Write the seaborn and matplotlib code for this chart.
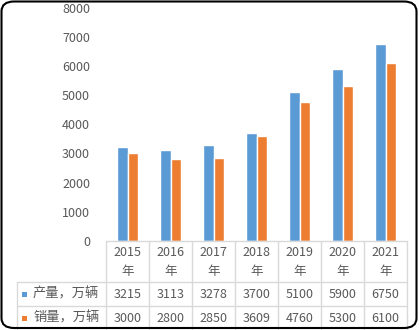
import matplotlib
matplotlib.use("Agg")
import matplotlib.pyplot as plt
from matplotlib.patches import FancyBboxPatch, Rectangle
import seaborn as sns
import pandas as pd

# Data
years = ["2015", "2016", "2017", "2018", "2019", "2020", "2021"]
year_suffix = "年"
series_names = ["产量，万辆", "销量，万辆"]
production = [3215, 3113, 3278, 3700, 5100, 5900, 6750]
sales = [3000, 2800, 2850, 3609, 4760, 5300, 6100]
y_ticks = [0, 1000, 2000, 3000, 4000, 5000, 6000, 7000, 8000]

colors = ["#5B9BD5", "#ED7D31"]
text_color = "#595959"
grid_color = "#D9D9D9"

sns.set_theme(style="white")
plt.rcParams["font.family"] = ["Noto Sans CJK SC", "DejaVu Sans"]

df = pd.DataFrame({
    "year": years * 2,
    "series": [series_names[0]] * len(years) + [series_names[1]] * len(years),
    "value": production + sales,
})

W, H = 419, 330
fig = plt.figure(figsize=(W / 100, H / 100), dpi=100)

def fx(px):
    return px / W

def fy(py):
    return 1 - py / H

# Chart area
ax_left, ax_right, ax_top, ax_bottom = 106, 407, 7.5, 241
ax = fig.add_axes([fx(ax_left), fy(ax_bottom), fx(ax_right - ax_left), (ax_bottom - ax_top) / H])
sns.barplot(data=df, x="year", y="value", hue="series", order=years,
            hue_order=series_names, palette=colors, width=0.466, gap=0,
            saturation=1, legend=False, ax=ax, errorbar=None)
ax.set_xlim(-0.5, len(years) - 0.5)
ax.set_ylim(0, 8000)
ax.set_yticks(y_ticks)
ax.set_yticklabels([str(t) for t in y_ticks])
ax.tick_params(axis="y", length=0, pad=11.5, labelsize=9, labelcolor=text_color)
ax.set_xticks([])
ax.set_xlabel("")
ax.set_ylabel("")
for s in ax.spines.values():
    s.set_visible(False)
ax.patch.set_alpha(0)

# Data table below the chart
tb_left, tb_top, tb_bottom = 17, 241, 330
col_w = (ax_right - ax_left) / len(years)
x_min = -0.5 - (ax_left - tb_left) / col_w
tax = fig.add_axes([fx(tb_left), 0, fx(ax_right - tb_left), (tb_bottom - tb_top) / H])
tax.set_xlim(x_min, len(years) - 0.5)
tax.set_ylim(tb_bottom - tb_top, 0)
tax.axis("off")

row1, row2 = 282 - tb_top, 306 - tb_top
lw = 1.0
tax.plot([-0.5, len(years) - 0.5], [0, 0], color=grid_color, lw=lw, clip_on=False)
for yy in (row1, row2):
    tax.plot([x_min, len(years) - 0.5], [yy, yy], color=grid_color, lw=lw, clip_on=False)
for i in range(len(years) + 1):
    tax.plot([i - 0.5, i - 0.5], [0, tb_bottom - tb_top], color=grid_color, lw=lw, clip_on=False)
tax.plot([x_min, x_min], [row1, tb_bottom - tb_top], color=grid_color, lw=lw, clip_on=False)

for i, yr in enumerate(years):
    tax.text(i, 12, yr, ha="center", va="center", fontsize=9, color=text_color)
    tax.text(i, 31, year_suffix, ha="center", va="center", fontsize=9, color=text_color)
    tax.text(i, 294 - tb_top, str(production[i]), ha="center", va="center", fontsize=9, color=text_color)
    tax.text(i, 318 - tb_top, str(sales[i]), ha="center", va="center", fontsize=9, color=text_color)

# Legend keys inside the table
for name, c, ycen in zip(series_names, colors, (294, 318)):
    fig.patches.append(Rectangle((fx(22), fy(ycen + 2.5)), fx(5), 5 / H,
                                 transform=fig.transFigure, color=c, lw=0))
    fig.text(fx(33), fy(ycen), name, ha="left", va="center", fontsize=9.5, color=text_color)

# Rounded outer frame
fig.patches.append(FancyBboxPatch((fx(1.5), fy(328)), fx(415), 326.5 / H,
                                  boxstyle="round,pad=0,rounding_size=0.03",
                                  transform=fig.transFigure, fill=False,
                                  edgecolor="black", lw=1.5))

fig.savefig("out.png", dpi=100)
